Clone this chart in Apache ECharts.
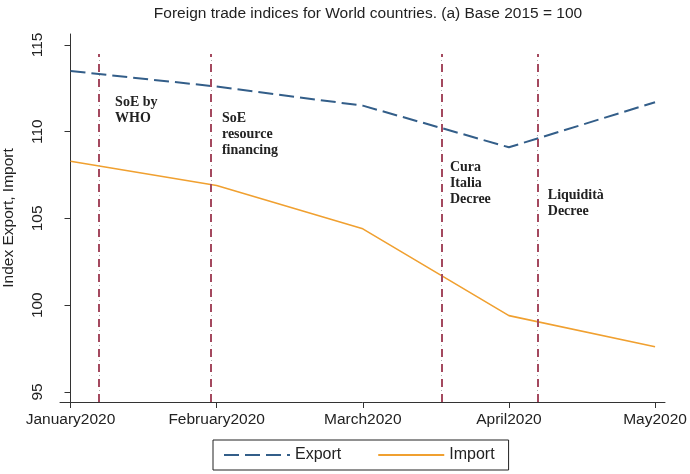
<!DOCTYPE html>
<html>
<head>
<meta charset="utf-8">
<script src="https://cdn.jsdelivr.net/npm/echarts@6/dist/echarts.min.js"></script>
<style>
  html, body { margin: 0; padding: 0; background: #fff; }
  #main { width: 690px; height: 474px; }
</style>
</head>
<body>
<div id="main"></div>
<script>
// months on the x axis (0 = January2020 ... 4 = May2020)
const months = ['January2020', 'February2020', 'March2020', 'April2020', 'May2020']
const exportIdx = [113.5, 112.6, 111.5, 109.1, 111.7]
const importIdx = [108.3, 106.9, 104.4, 99.4, 97.6]
const yTicks = [95, 100, 105, 110, 115]

// policy events, position in months from January2020
const eventX = [0.195, 0.96, 2.54, 3.195]
const eventText = ['SoE by\nWHO', 'SoE\nresource\nfinancing', 'Cura\nItalia\nDecree', 'Liquidità\nDecree']
const eventTextX = [0.305, 1.036, 2.596, 3.266]
const eventTextY = [112.15, 111.22, 108.4, 106.79]

const yMin = 94.42
const yMax = 115.63
const eventTop = 114.48

var myChart = echarts.init(document.getElementById('main'))

const font = 'Liberation Sans, Arial, Helvetica, sans-serif'
const eventLines = eventX.map(x => [{ coord: [x, yMin] }, { coord: [x, eventTop] }])

var option = {
  animation: false,
  title: {
    text: 'Foreign trade indices for World countries. (a) Base 2015 = 100',
    left: 363,
    top: 1,
    textAlign: 'center',
    textStyle: { fontFamily: font, fontSize: 15.5, fontWeight: 'normal', color: '#222' }
  },
  grid: { left: 60, right: 25, top: 34, bottom: 72, outerBoundsMode: 'none' },
  legend: {
    left: 213,
    top: 440,
    width: 298,
    padding: [7, 14, 7, 10],
    itemGap: 36,
    itemWidth: 66,
    itemHeight: 10,
    borderColor: '#222',
    borderWidth: 1,
    borderRadius: 0,
    itemStyle: { opacity: 0 },
    textStyle: { fontFamily: font, fontSize: 16, color: '#222' },
    data: ['Export', 'Import']
  },
  xAxis: {
    type: 'value',
    min: -0.072,
    max: 4.068,
    splitLine: { show: false },
    axisLine: { lineStyle: { color: '#333', width: 1 } },
    axisTick: { length: 6, lineStyle: { color: '#333' }, customValues: [0, 1, 2, 3, 4] },
    axisLabel: {
      customValues: [0, 1, 2, 3, 4],
      formatter: function (v) { return months[Math.round(v)] },
      margin: 10,
      fontFamily: font,
      fontSize: 15.5,
      color: '#222'
    }
  },
  yAxis: {
    type: 'value',
    min: yMin,
    max: yMax,
    name: 'Index Export, Import',
    nameLocation: 'middle',
    nameGap: 43,
    nameMoveOverlap: false,
    nameTextStyle: { fontFamily: font, fontSize: 15.5, color: '#222' },
    splitLine: { show: false },
    axisLine: { show: true, lineStyle: { color: '#333', width: 1 } },
    axisTick: { show: true, length: 6, lineStyle: { color: '#333' }, customValues: yTicks },
    axisLabel: {
      customValues: yTicks,
      rotate: 90,
      margin: 14,
      fontFamily: font,
      fontSize: 15.5,
      color: '#222'
    }
  },
  series: [
    {
      name: 'Export',
      type: 'line',
      symbol: 'none',
      color: '#335e89',
      lineStyle: { width: 2, type: [15, 6], color: '#335e89' },
      data: exportIdx.map((v, i) => [i, v]),
      z: 3
    },
    {
      name: 'Import',
      type: 'line',
      symbol: 'none',
      color: '#f0a030',
      lineStyle: { width: 1.6, color: '#f0a030' },
      data: importIdx.map((v, i) => [i, v]),
      z: 3
    },
    {
      // gray dots between the dashes of the event lines
      name: 'eventDots',
      type: 'line',
      data: [],
      silent: true,
      markLine: {
        symbol: 'none',
        silent: true,
        label: { show: false },
        lineStyle: { color: '#aaa', width: 1, type: [1, 14], dashOffset: 4 },
        data: eventLines
      }
    },
    {
      name: 'events',
      type: 'line',
      data: [],
      silent: true,
      markLine: {
        symbol: 'none',
        silent: true,
        label: { show: false },
        lineStyle: { color: '#a4495f', width: 2, type: [8, 7] },
        data: eventLines
      },
      markPoint: {
        symbol: 'circle',
        symbolSize: 0,
        silent: true,
        label: {
          show: true,
          position: [0, 0],
          align: 'left',
          verticalAlign: 'top',
          fontFamily: 'Liberation Serif, Times New Roman, serif',
          fontWeight: 'bold',
          fontSize: 14,
          lineHeight: 16,
          color: '#222',
          formatter: p => p.name
        },
        data: eventText.map((t, i) => ({ name: t, coord: [eventTextX[i], eventTextY[i]] }))
      }
    }
  ]
}

myChart.setOption(option)
</script>
</body>
</html>
